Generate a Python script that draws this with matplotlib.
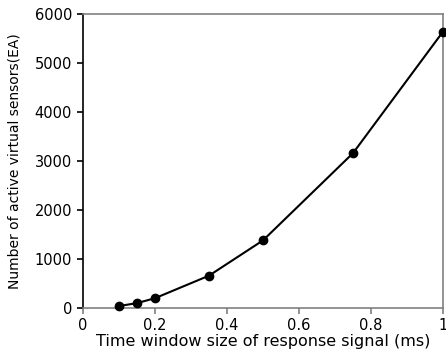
import numpy as np
import matplotlib
matplotlib.use("Agg")
import matplotlib.pyplot as plt

# window size (ms) and number of active virtual sensors
window_ms = [0.1, 0.15, 0.2, 0.35, 0.5, 0.75, 1.0]
n_sensors = [40, 100, 200, 660, 1380, 3160, 5640]

x_ticks = [0, 0.2, 0.4, 0.6, 0.8, 1]
x_labels = ["0", "0.2", "0.4", "0.6", "0.8", "1"]
y_ticks = [0, 1000, 2000, 3000, 4000, 5000, 6000]

GREY = "#808080"
BLACK = "#000000"

plt.rcParams['font.family'] = ['DejaVu Sans']
plt.rcParams['font.size'] = 10.5

fig = plt.figure(figsize=(4.46, 3.57), dpi=100)
ax = fig.add_axes([83 / 446, 1 - 308 / 357, 360 / 446, 294 / 357])

ax.plot(window_ms, n_sensors, color=BLACK, lw=1.5, marker='o', ms=6,
        clip_on=False, zorder=3)

ax.set_xlim(0, 1)
ax.set_ylim(0, 6000)
ax.set_xticks(x_ticks)
ax.set_xticklabels(x_labels)
ax.set_yticks(y_ticks)

# spines: left black, others grey
ax.spines['left'].set_color(BLACK)
for s in ['bottom', 'top', 'right']:
    ax.spines[s].set_color(GREY)
for s in ax.spines.values():
    s.set_linewidth(1.2)

ax.tick_params(axis='x', direction='out', length=4, width=1.2, color=GREY, pad=3)
ax.tick_params(axis='y', direction='out', length=4, width=1.2, color=BLACK, pad=4)

ax.set_xlabel("Time window size of response signal (ms)", labelpad=1, fontsize=11.5)
ax.set_ylabel("Number of active virtual sensors(EA)", labelpad=9, fontsize=10)

fig.savefig("out.png", dpi=100)
